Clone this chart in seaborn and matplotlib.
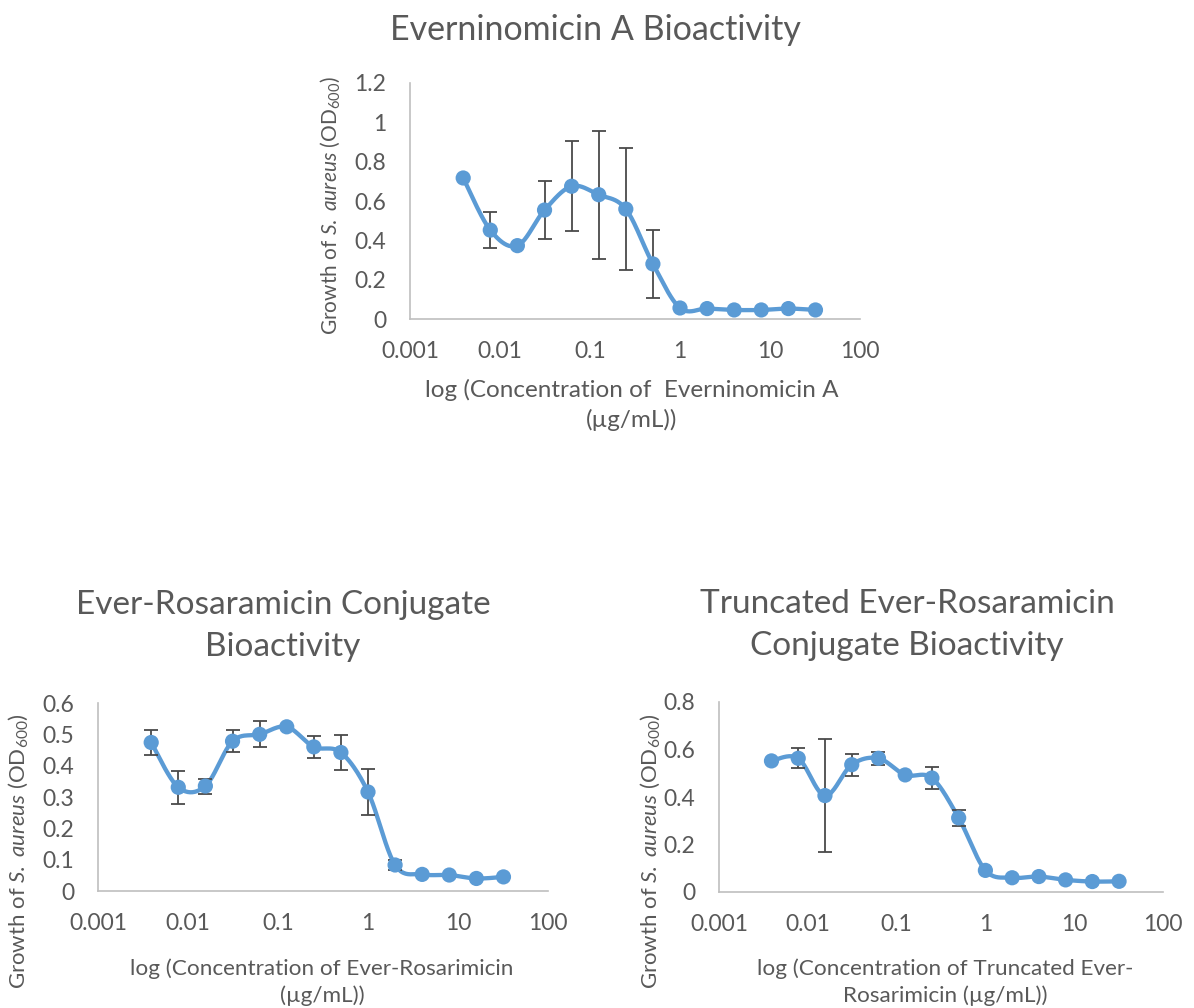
import numpy as np
import pandas as pd
import matplotlib
matplotlib.use("Agg")
import matplotlib.pyplot as plt
import seaborn as sns

# ---------------- data ----------------
conc = [0.0039, 0.0078, 0.0156, 0.03125, 0.0625, 0.125, 0.25, 0.5, 1, 2, 4, 8, 16, 32]

evn_mean = [0.717, 0.452, 0.373, 0.554, 0.675, 0.632, 0.559, 0.280, 0.056, 0.053, 0.046, 0.046, 0.053, 0.046]
evn_err = [0, 0.090, 0, 0.148, 0.230, 0.325, 0.308, 0.172, 0, 0, 0, 0, 0, 0]

ros_mean = [0.474, 0.331, 0.335, 0.478, 0.500, 0.524, 0.460, 0.442, 0.316, 0.083, 0.053, 0.051, 0.040, 0.045]
ros_err = [0.040, 0.052, 0.024, 0.035, 0.042, 0, 0.034, 0.055, 0.072, 0.015, 0, 0, 0, 0]

trn_mean = [0.552, 0.563, 0.406, 0.536, 0.563, 0.493, 0.480, 0.312, 0.091, 0.060, 0.065, 0.051, 0.044, 0.045]
trn_err = [0, 0.042, 0.237, 0.046, 0.028, 0, 0.045, 0.035, 0, 0, 0, 0, 0, 0]

x_ticks = [0.001, 0.01, 0.1, 1, 10, 100]
x_tick_labels = ["0.001", "0.01", "0.1", "1", "10", "100"]

titles = ["Everninomicin A Bioactivity",
          "Ever-Rosaramicin Conjugate\nBioactivity",
          "Truncated Ever-Rosaramicin\nConjugate Bioactivity"]
xlabels = ["log (Concentration of  Everninomicin A\n(\u00b5g/mL))",
           "log (Concentration of Ever-Rosarimicin\n(\u00b5g/mL))",
           "log (Concentration of Truncated Ever-\nRosarimicin (\u00b5g/mL))"]
ylabel = r"Growth of $\mathit{S.}$ $\mathit{aureus}$ (OD$_{\mathrm{600}}$)"

# ---------------- style ----------------
sns.set_theme(style="white")
FONT = "Lato"
plt.rcParams["font.family"] = [FONT, "DejaVu Sans"]
plt.rcParams["mathtext.fontset"] = "custom"
plt.rcParams["mathtext.rm"] = FONT
plt.rcParams["mathtext.it"] = FONT + ":italic"
plt.rcParams["mathtext.bf"] = FONT + ":bold"

TXT = "#595959"
BLUE = "#5B9BD5"
AXC = "#BFBFBF"
W, H = 1194, 1008
TICK_FS = 16.5

fig = plt.figure(figsize=(W / 100, H / 100), dpi=100)


def smooth(xs, ys, n=24):
    u = np.log10(np.asarray(xs, float))
    y = np.asarray(ys, float)
    P = np.column_stack([u, y])
    out = [P[0]]
    for i in range(len(P) - 1):
        p0 = P[i - 1] if i > 0 else P[i]
        p1, p2 = P[i], P[i + 1]
        p3 = P[i + 2] if i + 2 < len(P) else P[i + 1]
        c1 = p1 + (p2 - p0) / 6.0
        c2 = p2 - (p3 - p1) / 6.0
        t = np.linspace(0, 1, n)[1:, None]
        seg = ((1 - t) ** 3) * p1 + 3 * ((1 - t) ** 2) * t * c1 + 3 * (1 - t) * t ** 2 * c2 + t ** 3 * p2
        out.extend(seg)
    out = np.array(out)
    return pd.DataFrame({"x": 10 ** out[:, 0], "y": out[:, 1], "k": np.arange(len(out))})


def panel(rect_px, mean, err, ymax, ystep):
    x0, y0, x1, y1 = rect_px
    ax = fig.add_axes([x0 / W, 1 - y1 / H, (x1 - x0) / W, (y1 - y0) / H])
    curve = smooth(conc, mean)
    sns.lineplot(data=curve, x="x", y="y", sort=False, estimator=None, ax=ax,
                 color=BLUE, lw=3.1, zorder=2)
    e = np.array(err)
    mask = e > 0
    ax.errorbar(np.array(conc)[mask], np.array(mean)[mask], yerr=e[mask], fmt="none",
                ecolor="#4a4a4a", elinewidth=1.3, capsize=5, capthick=1.3, zorder=3)
    pts = pd.DataFrame({"x": conc, "y": mean})
    sns.scatterplot(data=pts, x="x", y="y", ax=ax, color=BLUE, s=120, edgecolor="none",
                    zorder=4, clip_on=False)
    ax.set_xscale("log")
    ax.set_xlim(0.001, 100)
    ax.set_ylim(0, ymax)
    ax.set_xticks(x_ticks)
    ax.set_xticklabels(x_tick_labels)
    ax.minorticks_off()
    yt = np.round(np.arange(0, ymax + 1e-9, ystep), 3)
    ax.set_yticks(yt)
    ax.set_yticklabels(["%g" % v for v in yt])
    ax.tick_params(axis="both", length=0, labelsize=TICK_FS, labelcolor=TXT)
    ax.tick_params(axis="x", pad=16)
    ax.tick_params(axis="y", pad=17)
    for s in ["top", "right"]:
        ax.spines[s].set_visible(False)
    for s in ["left", "bottom"]:
        ax.spines[s].set_color(AXC)
        ax.spines[s].set_linewidth(1.2)
    ax.set_xlabel("")
    ax.set_ylabel("")
    ax.set_facecolor("none")
    return ax


panel((410, 83, 860, 319), evn_mean, evn_err, 1.2, 0.2)
panel((98, 703, 548, 891), ros_mean, ros_err, 0.6, 0.1)
panel((719, 702, 1163, 892), trn_mean, trn_err, 0.8, 0.2)

# titles
fig.text(595 / W, 1 - 30 / H, titles[0], ha="center", va="center", fontsize=24.5, color=TXT)
fig.text(283 / W, 1 - 626 / H, titles[1], ha="center", va="center", fontsize=24, color=TXT,
         linespacing=1.5)
fig.text(907 / W, 1 - 625 / H, titles[2], ha="center", va="center", fontsize=24, color=TXT,
         linespacing=1.5)

# x labels
fig.text(632 / W, 1 - 405 / H, xlabels[0], ha="center", va="center", fontsize=17.5, color=TXT,
         linespacing=1.4)
fig.text(322 / W, 1 - 982 / H, xlabels[1], ha="center", va="center", fontsize=16.2, color=TXT,
         linespacing=1.4)
fig.text(945 / W, 1 - 982 / H, xlabels[2], ha="center", va="center", fontsize=16.2, color=TXT,
         linespacing=1.4)

# y labels
fig.text(330 / W, 1 - 206 / H, ylabel, ha="center", va="center", rotation=90, fontsize=15, color=TXT)
fig.text(18 / W, 1 - 851 / H, ylabel, ha="center", va="center", rotation=90, fontsize=16, color=TXT)
fig.text(650 / W, 1 - 851 / H, ylabel, ha="center", va="center", rotation=90, fontsize=16, color=TXT)

fig.savefig("out.png", dpi=100, facecolor="white")
